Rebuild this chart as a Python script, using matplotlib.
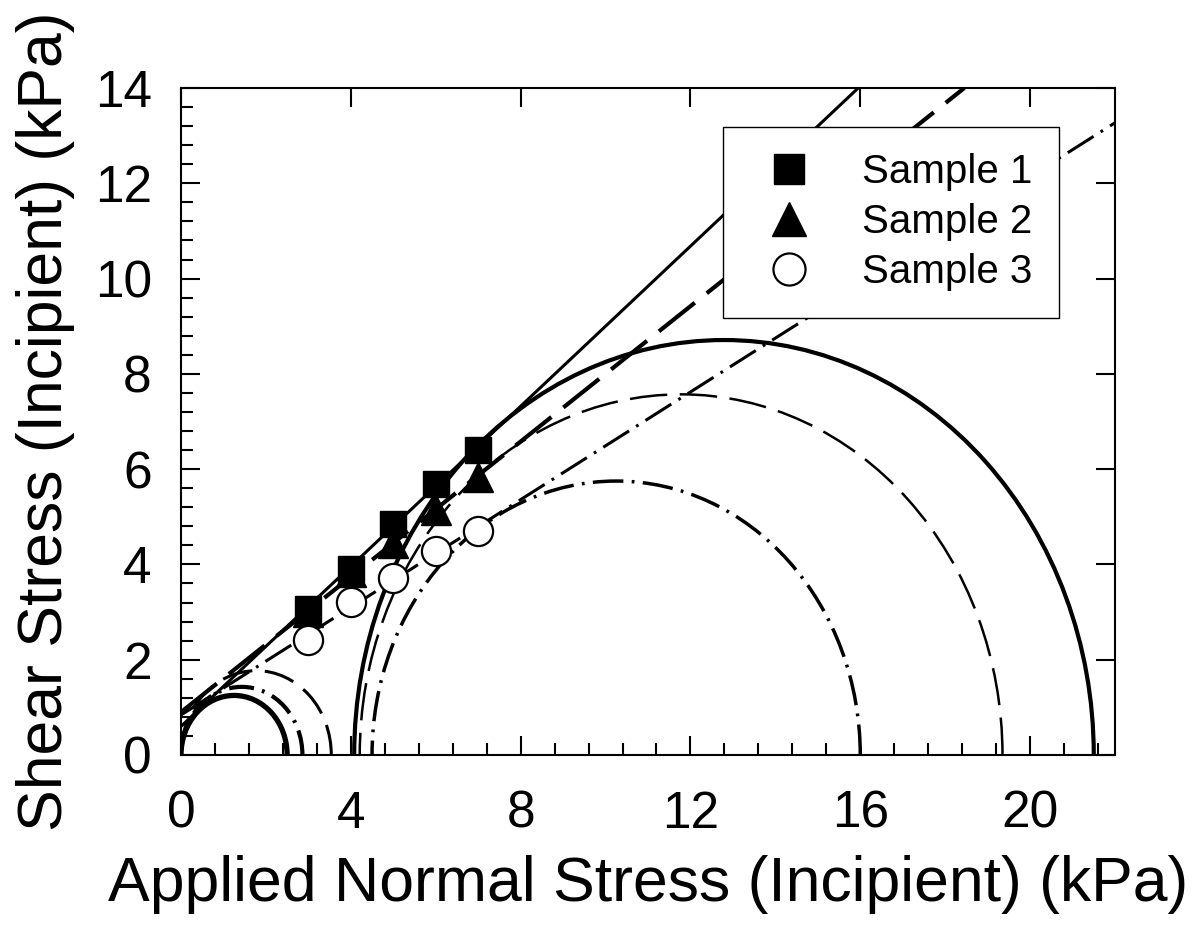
import numpy as np
import matplotlib
matplotlib.use('Agg')
import matplotlib.pyplot as plt
from matplotlib.patches import Arc
from matplotlib.ticker import MultipleLocator

plt.rcParams['font.family'] = ['Liberation Sans', 'DejaVu Sans']
plt.rcParams['lines.scale_dashes'] = False

# measured test points (normal stress, shear stress) in kPa
normal = [3, 4, 5, 6, 7]
shear_s1 = [3.07, 3.91, 4.85, 5.69, 6.41]
shear_s2 = [3.00, 3.85, 4.45, 5.15, 5.84]
shear_s3 = [2.42, 3.21, 3.72, 4.29, 4.71]

# failure envelopes, sample 1..3: intercept (kPa) and slope
env_intercept = [0.60, 0.90, 0.84]
env_slope = [0.84, 0.71, 0.565]

# Mohr circles, sample 1..3
small_center = [1.25, 1.77, 1.43]
small_radius = [1.25, 1.77, 1.43]
big_center = [12.79, 11.78, 10.25]
big_radius = [8.71, 7.57, 5.75]

# line styles for sample 1..3
env_style = ['-', (0, (33, 11)), (0, (22, 6, 2, 6))]
env_lw = [2.2, 3.0, 2.2]
big_style = ['-', (0, (27, 9)), (0, (22, 6, 2, 6))]
big_lw = [3.0, 1.8, 2.5]
small_style = ['-', (0, (22, 9)), (0, (18, 6, 2, 6))]
small_lw = [3.8, 2.2, 3.0]

fig = plt.figure(figsize=(12.04, 9.4), dpi=100)
ax = fig.add_axes([181/1204, 185/940, 934/1204, 667/940])

for i in range(3):
    ax.axline((0, env_intercept[i]), slope=env_slope[i], color='black',
              lw=env_lw[i], linestyle=env_style[i], zorder=3)
    ax.add_patch(Arc((big_center[i], 0), 2*big_radius[i], 2*big_radius[i],
                     theta1=0, theta2=180, color='black', lw=big_lw[i],
                     linestyle=big_style[i], zorder=2))
    ax.add_patch(Arc((small_center[i], 0), 2*small_radius[i], 2*small_radius[i],
                     theta1=0, theta2=180, color='black', lw=small_lw[i],
                     linestyle=small_style[i], zorder=2))

ax.plot(normal, shear_s2, linestyle='none', marker='^', ms=22, color='black',
        label='Sample 2', zorder=4)
ax.plot(normal, shear_s1, linestyle='none', marker='s', ms=19, color='black',
        label='Sample 1', zorder=5)
ax.plot(normal, shear_s3, linestyle='none', marker='o', ms=21, mfc='white',
        mec='black', mew=1.6, label='Sample 3', zorder=5)

ax.set_xlim(0, 22)
ax.set_ylim(0, 14)
ax.xaxis.set_major_locator(MultipleLocator(4))
ax.xaxis.set_minor_locator(MultipleLocator(0.8))
ax.yaxis.set_major_locator(MultipleLocator(2))
ax.yaxis.set_minor_locator(MultipleLocator(0.4))
ax.tick_params(which='both', direction='in', width=1.5, labelsize=37)
ax.tick_params(which='major', length=14, top=True, right=True)
ax.tick_params(which='minor', length=8.5, top=False, right=False)
ax.tick_params(axis='x', which='major', pad=25)
ax.tick_params(axis='y', which='major', pad=21)
for s in ax.spines.values():
    s.set_linewidth(1.5)

ax.set_xlabel('Applied Normal Stress (Incipient) (kPa)', fontsize=45, labelpad=12)
ax.set_ylabel('Shear Stress (Incipient) (kPa)', fontsize=45, labelpad=14)

handles, labels = ax.get_legend_handles_labels()
order = [1, 0, 2]
leg = ax.legend([handles[k] for k in order], [labels[k] for k in order],
                loc='upper left', bbox_to_anchor=(723/1204, 1 - 127/940),
                bbox_transform=fig.transFigure, borderaxespad=0,
                fontsize=29, handlelength=2.0, handletextpad=0.8,
                borderpad=0.65, labelspacing=0.3, markerscale=1.1,
                fancybox=False, framealpha=1, edgecolor='black')
leg.get_frame().set_linewidth(1.0)

fig.savefig('out.png', dpi=100)
